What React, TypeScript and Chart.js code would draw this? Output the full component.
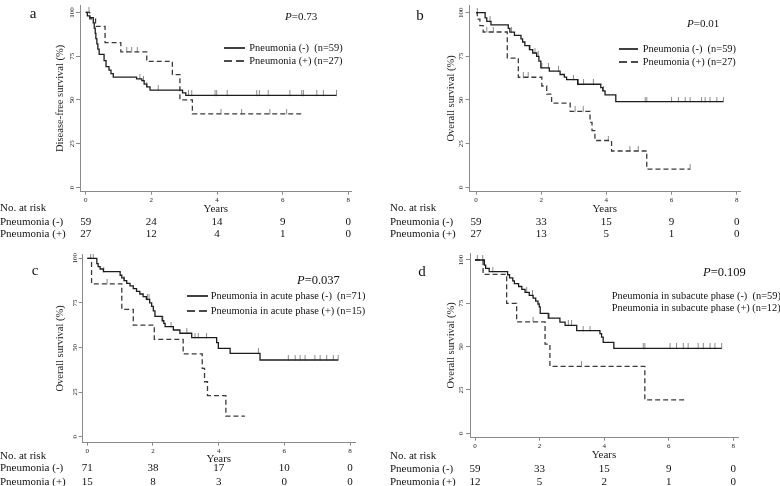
import React, { useEffect, useRef } from 'react';
import { Chart, registerables } from 'chart.js';
Chart.register(...registerables);

const FONT = '"Liberation Serif", "Times New Roman", serif';

const xTickValues = [0, 2, 4, 6, 8];
const yTickValues = [0, 25, 50, 75, 100];
const riskYears = [0, 2, 4, 6, 8];

// ---- Panel a (Disease-free survival) ----
const aNegT = [0, 0.05, 0.13, 0.23, 0.26, 0.29, 0.31, 0.34, 0.37, 0.41, 0.56, 0.62, 0.71, 0.77, 0.84, 1.55, 1.71, 1.78, 1.86, 1.96, 2.95, 3.05, 7.64];
const aNegS = [100, 98, 97, 94, 91, 88, 85, 82, 79, 76, 72.5, 69, 67, 65, 63, 62, 61, 59, 57.5, 55.6, 54, 52.6, 52.6];
const aNegC = [1.65, 1.76, 1.86, 2.21, 3.13, 3.23, 3.94, 3.99, 4.31, 5.21, 5.29, 5.56, 6.22, 6.58, 6.63, 7.04, 7.24, 7.64];
const aPosT = [0, 0.12, 0.3, 0.59, 1.07, 1.86, 2.64, 2.87, 3.25, 6.58];
const aPosS = [100, 96.3, 92, 82.8, 77.5, 72, 64.5, 50, 42, 42];
const aPosC = [0.1, 1.25, 1.4, 1.57, 4.12, 4.75, 5.61, 6.12];
const aRiskNeg = [59, 24, 14, 9, 0];
const aRiskPos = [27, 12, 4, 1, 0];

// ---- Panel b (Overall survival) ----
const bNegT = [0, 0.28, 0.33, 0.46, 0.99, 1.04, 1.18, 1.38, 1.43, 1.5, 1.64, 1.74, 1.86, 1.93, 1.99, 2.25, 2.58, 2.71, 2.78, 3.12, 3.83, 3.89, 3.96, 4.29, 7.59];
const bNegS = [100, 97, 95, 93, 91, 88.8, 87, 85, 83.2, 81.1, 78.8, 76.9, 75, 72.2, 68.4, 66.5, 64.6, 63.1, 61.6, 59, 57.1, 55.2, 52.9, 49.1, 49.1];
const bNegC = [0.04, 0.43, 1.09, 1.66, 1.81, 1.91, 2.02, 2.22, 2.53, 2.99, 3.14, 3.3, 3.6, 3.91, 5.19, 5.24, 6.0, 6.21, 6.42, 6.57, 6.92, 7.03, 7.18, 7.39, 7.59];
const bPosT = [0, 0.04, 0.12, 0.22, 0.96, 1.3, 2.02, 2.17, 2.32, 2.89, 3.5, 3.56, 3.65, 4.16, 5.24, 6.57];
const bPosS = [100, 96.3, 92.6, 88.9, 74, 63, 58, 53.3, 48.2, 43.5, 37.2, 32.5, 26.8, 20.8, 10.4, 10.4];
const bPosC = [0.33, 0.53, 1.45, 1.6, 3.04, 3.29, 4.06, 4.72, 4.98, 6.57];
const bRiskNeg = [59, 33, 15, 9, 0];
const bRiskPos = [27, 13, 5, 1, 0];

// ---- Panel c (acute phase) ----
const cNegT = [0, 0.29, 0.33, 0.39, 0.49, 1.0, 1.05, 1.12, 1.2, 1.3, 1.4, 1.5, 1.6, 1.7, 1.8, 1.9, 1.96, 2.01, 2.06, 2.28, 2.33, 2.37, 2.62, 2.82, 3.18, 3.94, 3.99, 4.35, 5.26, 7.64];
const cNegS = [100, 97, 95.3, 94, 92.5, 90.5, 89, 87.5, 86, 84.5, 83, 81.5, 80, 78.5, 77, 75, 73, 70.5, 67.5, 65, 63.5, 61.7, 59.8, 58, 55.5, 52.7, 49.5, 46.7, 43, 43];
const cNegC = [0.18, 0.5, 1.12, 1.83, 1.88, 2.3, 2.55, 3.03, 3.28, 3.38, 3.63, 5.21, 6.12, 6.33, 6.48, 6.63, 6.93, 7.09, 7.29, 7.49, 7.64];
const cPosT = [0, 0.13, 1.05, 1.4, 2.04, 2.92, 3.5, 3.57, 3.66, 4.22, 4.8];
const cPosS = [100, 85.7, 71.4, 62.5, 54.6, 46.4, 38.3, 30.8, 23, 11.5, 11.5];
const cPosC = [0.1, 0.6];
const cRiskNeg = [71, 38, 17, 10, 0];
const cRiskPos = [15, 8, 3, 0, 0];

// ---- Panel d (subacute phase) ----
const dNegT = [0, 0.29, 0.33, 0.44, 1.01, 1.07, 1.17, 1.22, 1.35, 1.45, 1.55, 1.68, 1.8, 1.88, 1.95, 1.99, 2.02, 2.27, 2.63, 2.79, 3.15, 3.87, 3.92, 3.97, 4.3, 7.64];
const dNegS = [100, 97, 95.2, 93.3, 91.5, 89.7, 88, 86.4, 84.7, 83, 81.3, 79.6, 78, 76.3, 74.6, 72.9, 69.2, 66.5, 64.2, 62.3, 59.2, 57.5, 55.5, 52.5, 49, 49];
const dNegC = [0.24, 0.55, 1.6, 1.78, 2.3, 2.89, 2.99, 3.35, 3.56, 5.21, 5.26, 6.04, 6.24, 6.45, 6.6, 6.91, 7.07, 7.28, 7.43, 7.64];
const dPosT = [0, 0.25, 0.98, 1.29, 2.17, 2.32, 5.26, 6.55];
const dPosS = [100, 91.7, 75, 64.3, 51.4, 38.6, 19.3, 19.3];
const dPosC = [0.07, 1.8, 3.3];
const dRiskNeg = [59, 33, 15, 9, 0];
const dRiskPos = [12, 5, 2, 1, 0];

type Area = { l: number; r: number; t: number; b: number };
type PanelCfg = {
  left: number; top: number; w: number; h: number;
  area: Area; x0: number; x8: number; y100: number; y0: number;
  yTitle: string; yTitleX: number; yTickX: number; yearsY: number;
  negT: number[]; negS: number[]; negC: number[];
  posT: number[]; posS: number[]; posC: number[];
};

function survAt(T: number[], S: number[], t: number) {
  let v = S[0];
  for (let i = 0; i < T.length; i++) if (T[i] <= t) v = S[i];
  return v;
}

let tickImg: HTMLCanvasElement | null = null;
function getTick() {
  if (tickImg) return tickImg;
  const c = document.createElement('canvas');
  c.width = 3; c.height = 10;
  const g = c.getContext('2d')!;
  g.fillStyle = '#8a8a8a';
  g.fillRect(1, 0, 1, 5.5);
  tickImg = c;
  return c;
}

const panels: PanelCfg[] = [
  { left: 0, top: 0, w: 390, h: 216, area: { l: 80, r: 351.7, t: 1.7, b: 191.7 }, x0: 85.7, x8: 348.3, y100: 9.3, y0: 187.3,
    yTitle: 'Disease-free survival (%)', yTitleX: 60, yTickX: 71.7, yearsY: 209,
    negT: aNegT, negS: aNegS, negC: aNegC, posT: aPosT, posS: aPosS, posC: aPosC },
  { left: 390, top: 0, w: 390, h: 216, area: { l: 79.5, r: 350, t: 3.3, b: 191.7 }, x0: 86, x8: 346.7, y100: 11, y0: 187.3,
    yTitle: 'Overall survival (%)', yTitleX: 61, yTickX: 70.7, yearsY: 209,
    negT: bNegT, negS: bNegS, negC: bNegC, posT: bPosT, posS: bPosS, posC: bPosC },
  { left: 0, top: 216, w: 390, h: 250, area: { l: 82.7, r: 355, t: 38, b: 226.7 }, x0: 87.3, x8: 350, y100: 42.3, y0: 220.7,
    yTitle: 'Overall survival (%)', yTitleX: 60, yTickX: 75, yearsY: 243.3,
    negT: cNegT, negS: cNegS, negC: cNegC, posT: cPosT, posS: cPosS, posC: cPosC },
  { left: 390, top: 216, w: 390, h: 250, area: { l: 80, r: 348, t: 37, b: 221.7 }, x0: 85, x8: 343.3, y100: 44, y0: 217.3,
    yTitle: 'Overall survival (%)', yTitleX: 61, yTickX: 70.7, yearsY: 239,
    negT: dNegT, negS: dNegS, negC: dNegC, posT: dPosT, posS: dPosS, posC: dPosC },
];

function pxOf(p: PanelCfg, t: number) {
  return p.left + p.x0 + (t * (p.x8 - p.x0)) / 8;
}

function buildConfig(p: PanelCfg): any {
  const ppx = (p.x8 - p.x0) / 8;
  const ppy = (p.y0 - p.y100) / 100;
  const xmin = (p.area.l - p.x0) / ppx;
  const xmax = (p.area.r - p.x0) / ppx;
  const ymax = (p.y0 - p.area.t) / ppy;
  const ymin = (p.y0 - p.area.b) / ppy;
  const yW = p.area.l - 40;
  const xH = p.h - p.area.b;
  const titleSize = 10.5;
  const yearsSize = 11;
  const tickFont = { family: FONT, size: 7 };
  const yTickPad = p.area.l - 4 - 5.25 - p.yTickX;
  const steps = (T: number[], S: number[]) => T.map((t, i) => ({ x: t, y: S[i] }));
  const cens = (T: number[], S: number[], C: number[]) => C.map((c) => ({ x: c, y: survAt(T, S, c) }));
  const tick = getTick();
  return {
    type: 'line',
    data: {
      datasets: [
        { data: steps(p.negT, p.negS), borderColor: '#1c1c1c', borderWidth: 1.3, stepped: 'before', pointRadius: 0, fill: false },
        { data: steps(p.posT, p.posS), borderColor: '#3a3a3a', borderWidth: 1.3, borderDash: [5, 3], stepped: 'before', pointRadius: 0, fill: false },
        { data: cens(p.negT, p.negS, p.negC), showLine: false, pointStyle: tick, pointRadius: 3 },
        { data: cens(p.posT, p.posS, p.posC), showLine: false, pointStyle: tick, pointRadius: 3 },
      ],
    },
    options: {
      responsive: false,
      animation: false,
      events: [],
      plugins: { legend: { display: false }, tooltip: { enabled: false } },
      layout: { padding: { left: 40, top: p.area.t, right: p.w - p.area.r, bottom: 0 } },
      scales: {
        x: {
          type: 'linear', min: xmin, max: xmax,
          afterBuildTicks: (s: any) => { s.ticks = xTickValues.map((v) => ({ value: v })); },
          afterFit: (s: any) => { s.height = xH; s.paddingLeft = 0; s.paddingRight = 0; },
          ticks: { font: tickFont, color: '#222', padding: 1, maxRotation: 0, autoSkip: false, callback: (v: any) => String(v) },
          grid: { drawOnChartArea: false, tickLength: 3, color: '#8a8a8a' },
          border: { color: '#8a8a8a', width: 1 },
          title: { display: true, text: 'Years', color: '#222', font: { family: FONT, size: yearsSize, lineHeight: 1 },
            padding: { top: 0, bottom: p.h - p.yearsY - yearsSize / 2 } },
        },
        y: {
          type: 'linear', min: ymin, max: ymax,
          afterBuildTicks: (s: any) => { s.ticks = yTickValues.map((v) => ({ value: v })); },
          afterFit: (s: any) => { s.width = yW; s.paddingTop = 0; s.paddingBottom = 0; s.paddingLeft = 0; s.paddingRight = 0; },
          ticks: { font: tickFont, color: '#222', padding: yTickPad, minRotation: 90, maxRotation: 90, crossAlign: 'center', autoSkip: false, callback: (v: any) => String(v) },
          grid: { drawOnChartArea: false, tickLength: 4, color: '#8a8a8a' },
          border: { color: '#8a8a8a', width: 1 },
          title: { display: true, text: p.yTitle, color: '#222', font: { family: FONT, size: titleSize, lineHeight: 1 },
            padding: { top: p.yTitleX - 40 - titleSize / 2, bottom: 0 } },
        },
      },
    },
  };
}

function KMPanel({ p }: { p: PanelCfg }) {
  const ref = useRef<HTMLCanvasElement>(null);
  useEffect(() => {
    const chart = new Chart(ref.current!, buildConfig(p));
    return () => chart.destroy();
  }, []);
  return (
    <canvas ref={ref} width={p.w} height={p.h}
      style={{ position: 'absolute', left: p.left, top: p.top, width: p.w, height: p.h }} />
  );
}

function Txt({ x, y, size = 11, center = false, children }: any) {
  return (
    <div style={{ position: 'absolute', left: x, top: y, transform: `translate(${center ? '-50%' : '0'}, -50%)`,
      fontFamily: FONT, fontSize: size, lineHeight: 1, whiteSpace: 'pre', color: '#111' }}>{children}</div>
  );
}

function Sample({ x1, x2, y, dashed }: { x1: number; x2: number; y: number; dashed: boolean }) {
  return (
    <svg style={{ position: 'absolute', left: x1, top: y - 2, width: x2 - x1, height: 4 }} width={x2 - x1} height={4}>
      <line x1={0} y1={2} x2={x2 - x1} y2={2} stroke="#111" strokeWidth={1.6} strokeDasharray={dashed ? '8 4' : undefined} />
    </svg>
  );
}

function Risk({ p, neg, pos, ys, labelX }: { p: PanelCfg; neg: number[]; pos: number[]; ys: number[]; labelX: number }) {
  return (
    <>
      <Txt x={labelX} y={ys[0]}>No. at risk</Txt>
      <Txt x={labelX} y={ys[1]}>Pneumonia (-)</Txt>
      <Txt x={labelX} y={ys[2]}>Pneumonia (+)</Txt>
      {riskYears.map((t, i) => (
        <React.Fragment key={t}>
          <Txt x={pxOf(p, t)} y={ys[1]} center>{String(neg[i])}</Txt>
          <Txt x={pxOf(p, t)} y={ys[2]} center>{String(pos[i])}</Txt>
        </React.Fragment>
      ))}
    </>
  );
}

function PVal({ x, y, v, size }: { x: number; y: number; v: string; size: number }) {
  return <Txt x={x} y={y} size={size}><i>P</i>{'=' + v}</Txt>;
}

const LEG = 10.4;

export default function App() {
  return (
    <div style={{ position: 'absolute', left: 0, top: 0, width: 780, height: 486, background: '#fff', overflow: 'hidden' }}>
      {panels.map((p, i) => <KMPanel key={i} p={p} />)}

      <Txt x={33} y={12.7} size={15} center>a</Txt>
      <Txt x={420} y={15} size={15} center>b</Txt>
      <Txt x={35} y={270} size={15} center>c</Txt>
      <Txt x={422} y={271} size={15} center>d</Txt>

      <PVal x={285} y={16} v="0.73" size={11} />
      <PVal x={687} y={22.7} v="0.01" size={11} />
      <PVal x={297} y={280} v="0.037" size={12.5} />
      <PVal x={703} y={272} v="0.109" size={12.5} />

      <Sample x1={224} x2={245} y={48.3} dashed={false} />
      <Sample x1={224} x2={245} y={61} dashed={true} />
      <Txt x={249.3} y={48.3} size={LEG}>{'Pneumonia (-)  (n=59)'}</Txt>
      <Txt x={249.3} y={61} size={LEG}>{'Pneumonia (+) (n=27)'}</Txt>

      <Sample x1={619.3} x2={638.3} y={49} dashed={false} />
      <Sample x1={619.3} x2={638.3} y={61.7} dashed={true} />
      <Txt x={642.7} y={49} size={LEG}>{'Pneumonia (-)  (n=59)'}</Txt>
      <Txt x={642.7} y={61.7} size={LEG}>{'Pneumonia (+) (n=27)'}</Txt>

      <Sample x1={186.7} x2={208.3} y={296} dashed={false} />
      <Sample x1={186.7} x2={208.3} y={311} dashed={true} />
      <Txt x={210.7} y={296} size={LEG}>{'Pneumonia in acute phase (-)  (n=71)'}</Txt>
      <Txt x={210.7} y={311} size={LEG}>{'Pneumonia in acute phase (+) (n=15)'}</Txt>

      <Txt x={611.7} y={296} size={LEG}>{'Pneumonia in subacute phase (-)  (n=59)'}</Txt>
      <Txt x={611.7} y={308} size={LEG}>{'Pneumonia in subacute phase (+) (n=12)'}</Txt>

      <Risk p={panels[0]} neg={aRiskNeg} pos={aRiskPos} ys={[207.3, 220.7, 233.3]} labelX={0} />
      <Risk p={panels[1]} neg={bRiskNeg} pos={bRiskPos} ys={[207.3, 220.7, 233.3]} labelX={390} />
      <Risk p={panels[2]} neg={cRiskNeg} pos={cRiskPos} ys={[455, 467, 480.5]} labelX={0} />
      <Risk p={panels[3]} neg={dRiskNeg} pos={dRiskPos} ys={[455, 468.3, 480.5]} labelX={390} />
    </div>
  );
}
